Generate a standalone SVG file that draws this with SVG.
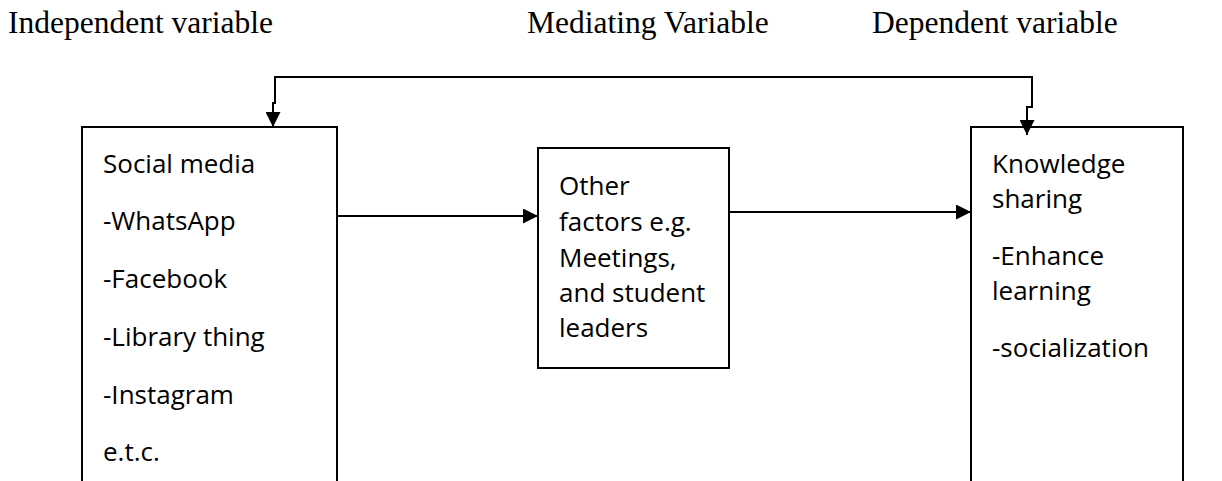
<svg xmlns="http://www.w3.org/2000/svg" width="1222" height="481" viewBox="0 0 1222 481">
<style>
.hdr{font-family:"Liberation Serif","Times New Roman",serif;font-size:31.5px;fill:#000}
.body{font-family:"Open Sans","Noto Sans",sans-serif;font-size:26px;fill:#000}
.box{fill:#fff;stroke:#000;stroke-width:2}
.conn{fill:none;stroke:#000;stroke-width:2}
</style>
<defs>
<marker id="arr" viewBox="0 0 10 10" refX="10" refY="5" markerWidth="15" markerHeight="15" markerUnits="userSpaceOnUse" orient="auto-start-reverse">
<path d="M0,0 L10,5 L0,10 z" fill="#000"/>
</marker>
</defs>
<rect width="1222" height="481" fill="#fff"/>
<g id="headers">
<text class="hdr" x="8" y="33">Independent variable</text>
<text class="hdr" x="527" y="33">Mediating Variable</text>
<text class="hdr" x="872" y="33">Dependent variable</text>
</g>
<g id="node-social-media">
<rect class="box" x="82" y="127" width="255" height="380"/>
<text class="body" x="103" y="173">Social media</text>
<text class="body" x="103" y="230">-WhatsApp</text>
<text class="body" x="103" y="288">-Facebook</text>
<text class="body" x="103" y="346">-Library thing</text>
<text class="body" x="103" y="404">-Instagram</text>
<text class="body" x="103" y="461">e.t.c.</text>
</g>
<g id="node-other-factors">
<rect class="box" x="538" y="148" width="191" height="220"/>
<text class="body" x="559" y="195">Other</text>
<text class="body" x="559" y="231">factors e.g.</text>
<text class="body" x="559" y="267">Meetings,</text>
<text class="body" x="559" y="302">and student</text>
<text class="body" x="559" y="337">leaders</text>
</g>
<g id="node-knowledge-sharing">
<rect class="box" x="971" y="127" width="212" height="380"/>
<text class="body" x="992" y="173">Knowledge</text>
<text class="body" x="992" y="208">sharing</text>
<text class="body" x="992" y="265">-Enhance</text>
<text class="body" x="992" y="300">learning</text>
<text class="body" x="992" y="357">-socialization</text>
</g>
<g id="connectors">
<path class="conn" d="M273,127 V103 H275 V77 H1032 V107 H1027 V135" marker-start="url(#arr)" marker-end="url(#arr)"/>
<path class="conn" d="M337,216 H538" marker-end="url(#arr)"/>
<path class="conn" d="M729,212 H971" marker-end="url(#arr)"/>
</g>
</svg>
